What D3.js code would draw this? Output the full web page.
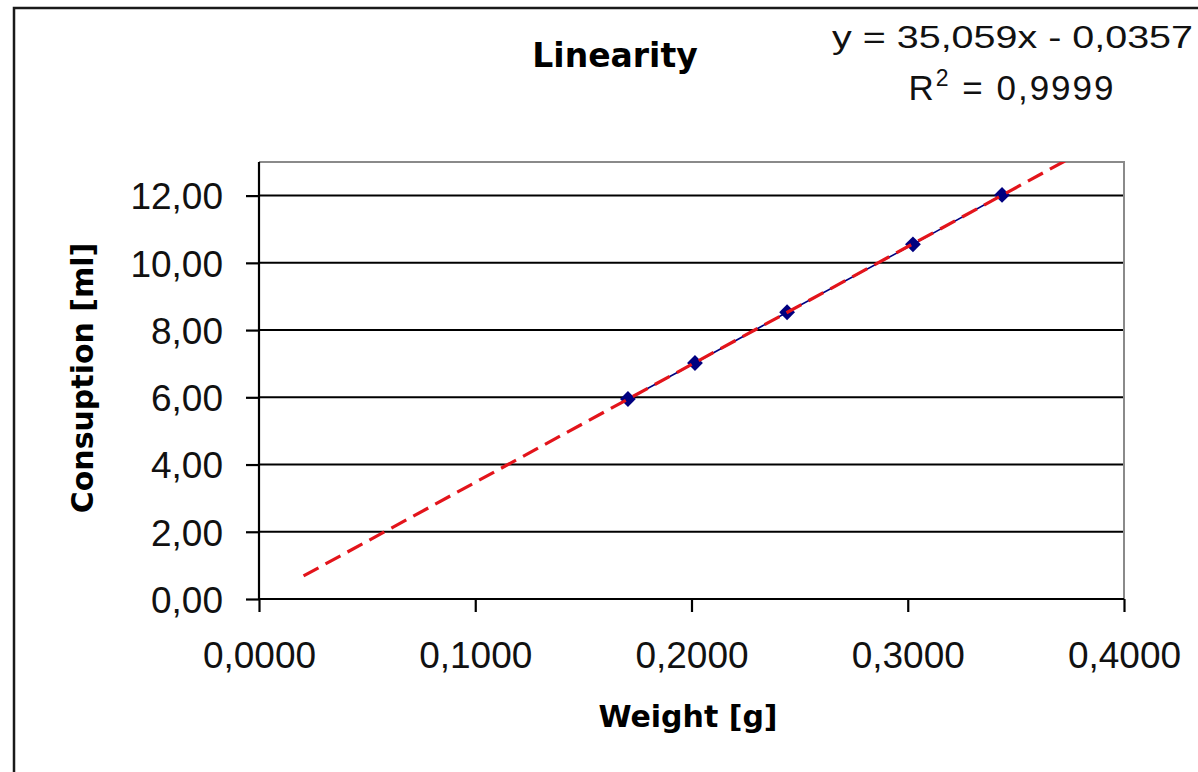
<!DOCTYPE html>
<html>
<head>
<meta charset="utf-8">
<script src="https://cdn.jsdelivr.net/npm/d3@7"></script>
<style>
  body { margin: 0; background: #fff; }
  .tick text { font-family: "Liberation Sans", Arial, sans-serif; font-size: 37px; fill: #111; }
</style>
</head>
<body>
<div id="chart"></div>
<script>
// data
const weight = [0.1706, 0.2016, 0.2442, 0.3024, 0.3436];
const consumption = [5.95, 7.02, 8.53, 10.55, 12.02];
const xTicks = [0, 0.1, 0.2, 0.3, 0.4];
const yTicks = [0, 2, 4, 6, 8, 10, 12];
const trendCoef = [35.059, -0.0357];      // slope, intercept (from the label)
const trendRange = [0.0206, 0.3936];      // x span of the trendline
const titleText = "Linearity";
const xTitle = "Weight [g]";
const yTitle = "Consuption [ml]";
const eqLine1 = "y = 35,059x - 0,0357";
const eqLine2 = ["R", "2", " = 0,9999"];

var W = 1198, H = 772;
var plot = {left: 259, right: 1124, top: 162, bottom: 599};

var svg = d3.select("#chart").append("svg")
    .attr("width", W)
    .attr("height", H);

// outer chart border
svg.append("rect")
    .attr("x", 14).attr("y", 8)
    .attr("width", W + 20).attr("height", H + 20)
    .style("fill", "#fff")
    .style("stroke", "#1a1a1a")
    .style("stroke-width", 2.5);

var x = d3.scaleLinear().domain([0, 0.4]).range([plot.left, plot.right]);
var y = d3.scaleLinear().domain([0, 13]).range([plot.bottom, plot.top]);

var loc = d3.formatLocale({decimal: ",", thousands: ".", grouping: [3], currency: ["", ""]});

// gridlines
svg.append("g").selectAll("line")
    .data(yTicks.filter(function(d){ return d > 0 }))
    .enter().append("line")
    .attr("x1", plot.left).attr("x2", plot.right)
    .attr("y1", function(d){ return y(d) })
    .attr("y2", function(d){ return y(d) })
    .style("stroke", "#000")
    .style("stroke-width", 2);

// plot frame top / right (grey)
svg.append("path")
    .attr("d", "M" + plot.left + "," + plot.top + "H" + plot.right + "V" + plot.bottom)
    .style("fill", "none")
    .style("stroke", "#8a8a8a")
    .style("stroke-width", 2);

// axes
var xAxis = svg.append("g")
    .attr("transform", "translate(0," + plot.bottom + ")")
    .call(d3.axisBottom(x).tickValues(xTicks).tickFormat(loc.format(".4f"))
        .tickSize(13).tickSizeOuter(0).tickPadding(30));

var yAxis = svg.append("g")
    .attr("transform", "translate(" + plot.left + ",0)")
    .call(d3.axisLeft(y).tickValues(yTicks).tickFormat(loc.format(".2f"))
        .tickSize(13).tickSizeOuter(0).tickPadding(23));

[xAxis, yAxis].forEach(function(a){
    a.select(".domain").style("stroke", "#000").style("stroke-width", 2.2);
    a.selectAll(".tick line").style("stroke", "#000").style("stroke-width", 2.2);
});
yAxis.select(".domain").attr("d", "M0," + plot.bottom + "V" + plot.top);
xAxis.select(".domain").attr("d", "M" + plot.left + ",0H" + plot.right);
yAxis.selectAll(".tick text").attr("dy", "0.36em");

// series
var pts = weight.map(function(d, i){ return [d, consumption[i]] });

svg.append("path")
    .datum(pts)
    .attr("d", d3.line().x(function(d){ return x(d[0]) }).y(function(d){ return y(d[1]) }))
    .style("fill", "none")
    .style("stroke", "#000080")
    .style("stroke-width", 1.6);

svg.append("g").selectAll("path")
    .data(pts)
    .enter().append("path")
    .attr("d", d3.symbol(d3.symbolSquare, 125))
    .attr("transform", function(d){ return "translate(" + x(d[0]) + "," + y(d[1]) + ") rotate(45)" })
    .style("fill", "#000080");

// linear trendline
svg.append("clipPath").attr("id", "clip")
    .append("rect")
    .attr("x", plot.left).attr("y", plot.top)
    .attr("width", plot.right - plot.left).attr("height", plot.bottom - plot.top);

svg.append("path")
    .datum(trendRange)
    .attr("clip-path", "url(#clip)")
    .attr("d", d3.line()
        .x(function(d){ return x(d) })
        .y(function(d){ return y(trendCoef[0] * d + trendCoef[1]) }))
    .style("fill", "none")
    .style("stroke", "#e3141b")
    .style("stroke-width", 3.2)
    .style("stroke-dasharray", "17,8");

// titles
svg.append("text")
    .attr("x", 615).attr("y", 67)
    .attr("text-anchor", "middle")
    .style("font-family", "'DejaVu Sans', Verdana, sans-serif")
    .style("font-weight", "bold")
    .style("font-size", "33px")
    .text(titleText);

svg.append("text")
    .attr("x", 688).attr("y", 727)
    .attr("text-anchor", "middle")
    .style("font-family", "'DejaVu Sans', Verdana, sans-serif")
    .style("font-weight", "bold")
    .style("font-size", "30px")
    .text(xTitle);

svg.append("text")
    .attr("transform", "translate(93,378) rotate(-90)")
    .attr("text-anchor", "middle")
    .style("font-family", "'DejaVu Sans', Verdana, sans-serif")
    .style("font-weight", "bold")
    .style("font-size", "30px")
    .text(yTitle);

// trendline label
svg.append("text")
    .attr("x", 832).attr("y", 48)
    .attr("textLength", 361)
    .attr("lengthAdjust", "spacingAndGlyphs")
    .style("font-family", "'Liberation Sans', Arial, sans-serif")
    .style("font-size", "32px")
    .style("fill", "#111")
    .text(eqLine1);

var r2 = svg.append("text")
    .attr("x", 1012).attr("y", 100)
    .attr("text-anchor", "middle")
    .style("font-family", "'Liberation Sans', Arial, sans-serif")
    .style("font-size", "35px")
    .style("letter-spacing", "2px")
    .style("fill", "#111");
r2.append("tspan").text(eqLine2[0]);
r2.append("tspan").attr("dy", -14).style("font-size", "23px").text(eqLine2[1]);
r2.append("tspan").attr("dy", 14).text(eqLine2[2]);
</script>
</body>
</html>
